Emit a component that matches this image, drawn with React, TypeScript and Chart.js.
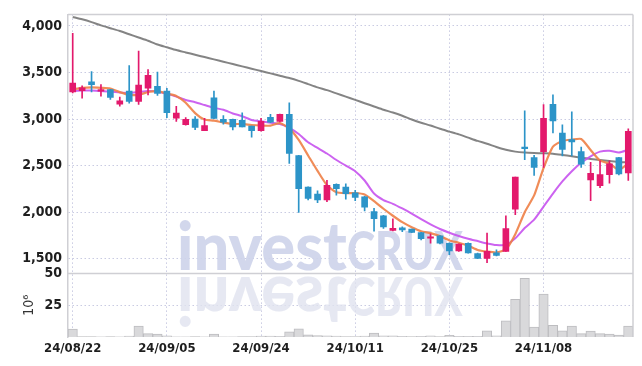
import React, { useEffect, useRef } from 'react';
import { Chart, registerables } from 'chart.js';

Chart.register(...registerables);

const dates = [
  '24/08/22', '24/08/23', '24/08/26', '24/08/27', '24/08/28', '24/08/29', '24/08/30',
  '24/09/02', '24/09/03', '24/09/04', '24/09/05', '24/09/06', '24/09/09', '24/09/10', '24/09/11', '24/09/12', '24/09/13',
  '24/09/19', '24/09/20', '24/09/23', '24/09/24', '24/09/25', '24/09/26', '24/09/27', '24/09/30',
  '24/10/02', '24/10/04', '24/10/07', '24/10/08', '24/10/10', '24/10/11', '24/10/14', '24/10/15', '24/10/16', '24/10/17', '24/10/18',
  '24/10/21', '24/10/22', '24/10/23', '24/10/24', '24/10/25', '24/10/28', '24/10/29', '24/10/30', '24/10/31',
  '24/11/01', '24/11/04', '24/11/05', '24/11/06', '24/11/07', '24/11/08', '24/11/11', '24/11/12', '24/11/13', '24/11/14', '24/11/15',
  '24/11/18', '24/11/19', '24/11/20', '24/11/21',
];

const opens = [
  3290, 3305, 3400, 3300, 3315, 3160, 3300, 3190, 3330, 3350,
  3300, 3010, 2940, 3000, 2875, 3228, 2997, 2997, 2987, 2923,
  2875, 3018, 2973, 3050, 2607, 2270, 2195, 2131, 2300, 2270,
  2207, 2165, 2007, 1962, 1805, 1832, 1818, 1780, 1720, 1745,
  1667, 1583, 1667, 1555, 1505, 1565, 1580, 2032, 2700, 2586,
  2650, 3158, 2850, 2780, 2650, 2347, 2284, 2404, 2586, 2421,
];
const highs = [
  3920, 3355, 3510, 3370, 3320, 3236, 3575, 3730, 3530, 3505,
  3330, 3137, 3015, 3025, 3007, 3300, 3036, 3000, 3067, 2925,
  3007, 3050, 3052, 3173, 2610, 2272, 2228, 2341, 2305, 2305,
  2236, 2170, 2042, 1965, 1930, 1842, 1820, 1785, 1768, 1750,
  1670, 1660, 1670, 1560, 1776, 1595, 1962, 2378, 3088, 2610,
  3155, 3260, 2937, 3078, 2700, 2534, 2552, 2550, 2590, 2895,
];
const lows = [
  3280, 3225, 3290, 3245, 3210, 3137, 3170, 3158, 3260, 3253,
  3015, 2973, 2935, 2885, 2874, 3005, 2944, 2884, 2915, 2805,
  2870, 2960, 2970, 2523, 1997, 2131, 2102, 2113, 2183, 2141,
  2123, 2015, 1797, 1825, 1800, 1790, 1780, 1702, 1667, 1660,
  1545, 1580, 1560, 1500, 1457, 1530, 1578, 1973, 2563, 2394,
  2481, 2850, 2604, 2604, 2480, 2123, 2263, 2312, 2400, 2341,
];
const closes = [
  3385, 3335, 3370, 3315, 3232, 3195, 3190, 3365, 3470, 3275,
  3067, 3065, 2997, 2910, 2930, 3007, 2967, 2916, 2916, 2875,
  2975, 2965, 3050, 2632, 2253, 2147, 2131, 2288, 2253, 2200,
  2158, 2053, 1930, 1842, 1828, 1811, 1783, 1716, 1735, 1668,
  1583, 1657, 1562, 1505, 1579, 1535, 1825, 2376, 2683, 2481,
  3007, 2979, 2674, 2755, 2516, 2418, 2404, 2520, 2411, 2867,
];

const volumes = [
  6.2, 0.3, 0.3, 0.2, 0.3, 0.2, 0.8, 8.6, 2.6, 2.3,
  0.9, 0.2, 0.2, 0.3, 0.2, 2.3, 0.2, 0.2, 0.3, 0.3,
  0.8, 0.8, 0.5, 4.1, 6.5, 1.8, 1.1, 1.0, 0.8, 0.4,
  0.4, 0.8, 3.1, 0.9, 0.9, 0.5, 0.4, 0.6, 1.0, 0.4,
  1.3, 0.6, 0.5, 0.6, 4.9, 1.0, 12.8, 29.7, 46.1, 7.8,
  33.8, 9.1, 4.9, 8.6, 2.6, 4.6, 2.6, 2.3, 1.5, 8.6,
];

const ma5 = [
  3320, 3335, 3340, 3335, 3327, 3289, 3260, 3259, 3290, 3299,
  3273, 3248, 3175, 3063, 2994, 2982, 2962, 2946, 2947, 2936,
  2930, 2929, 2956, 2899, 2775, 2609, 2443, 2290, 2214, 2204,
  2206, 2190, 2119, 2037, 1962, 1893, 1839, 1796, 1775, 1743,
  1697, 1672, 1641, 1595, 1577, 1568, 1601, 1764, 2000, 2180,
  2474, 2705, 2765, 2779, 2786, 2668, 2553, 2523, 2454, 2524,
];
const ma20 = [
  3300, 3305, 3305, 3300, 3295, 3285, 3280, 3290, 3300, 3295,
  3270, 3240, 3205, 3180, 3150, 3120, 3100, 3060, 3030, 2990,
  2975, 2960, 2945, 2905, 2840, 2750, 2690, 2630, 2560, 2500,
  2440, 2340, 2200, 2130, 2090, 2040, 1985, 1925, 1870, 1820,
  1780, 1745, 1715, 1690, 1665, 1648, 1650, 1720, 1830, 1920,
  2060, 2200, 2330, 2440, 2530, 2600, 2650, 2660, 2640, 2670,
];
const ma120 = [
  4095, 4070, 4040, 4005, 3975, 3945, 3910, 3875, 3840, 3800,
  3770, 3740, 3715, 3690, 3665, 3640, 3615, 3590, 3565, 3540,
  3515, 3490, 3465, 3440, 3410, 3375, 3340, 3310, 3275, 3240,
  3205, 3170, 3135, 3100, 3070, 3035, 2995, 2960, 2930, 2895,
  2865, 2835, 2800, 2765, 2735, 2700, 2670, 2650, 2640, 2635,
  2632, 2628, 2615, 2600, 2585, 2572, 2560, 2550, 2540, 2535,
];

const priceTicks = [1500, 2000, 2500, 3000, 3500, 4000];
const volumeTicks = [25, 50];
const dateLabelEvery = 10;

const UP = '#e3196c';
const DOWN = '#2c94c8';
const GRID = '#c9cbe2';
const FRAME = '#cfcfd4';
const FONT = "'DejaVu Sans Condensed', 'DejaVu Sans', sans-serif";

export default function App() {
  const ref = useRef<HTMLCanvasElement>(null);

  useEffect(() => {
    if (!ref.current) return;
    const colors = closes.map((c, i) => (c >= opens[i] ? UP : DOWN));

    const watermark = {
      id: 'watermark',
      beforeDatasetsDraw(chart: any) {
        const ctx = chart.ctx;
        const base = chart.scales.y.bottom - 3;
        ctx.save();
        ctx.textBaseline = 'alphabetic';
        ctx.textAlign = 'left';
        const draw = (color: string) => {
          ctx.fillStyle = color;
          ctx.font = "900 66px Lato, 'Open Sans', sans-serif";
          ctx.fillText('invest', 177, base, 170);
          ctx.font = "900 54px Lato, 'Open Sans', sans-serif";
          ctx.fillText('CRUX', 347, base, 116);
        };
        ctx.save();
        ctx.translate(0, 2 * base + 7);
        ctx.scale(1, -1);
        draw('rgba(224,226,239,0.8)');
        ctx.restore();
        draw('rgba(206,212,234,0.92)');
        ctx.restore();
      },
    };

    const frame = {
      id: 'frame',
      afterDraw(chart: any) {
        const ctx = chart.ctx;
        const a = chart.chartArea;
        const sep = chart.scales.y.bottom;
        ctx.save();
        ctx.strokeStyle = FRAME;
        ctx.lineWidth = 1.5;
        ctx.beginPath();
        ctx.moveTo(a.left, a.top);
        ctx.lineTo(a.right, a.top);
        ctx.moveTo(a.right, a.top);
        ctx.lineTo(a.right, a.bottom);
        ctx.moveTo(a.left, sep);
        ctx.lineTo(a.right, sep);
        ctx.stroke();
        ctx.restore();
      },
    };

    const tickFont = { family: FONT, size: 14, weight: 'bold', style: 'normal condensed' };

    const chart = new Chart(ref.current, {
      type: 'bar',
      data: {
        labels: dates,
        datasets: [
          {
            type: 'bar',
            label: 'body',
            data: opens.map((o, i) => [o, closes[i]]),
            backgroundColor: colors,
            borderWidth: 0,
            barThickness: 6,
            minBarLength: 1,
            grouped: false,
            yAxisID: 'y',
            order: 1,
          } as any,
          {
            type: 'bar',
            label: 'wick',
            data: lows.map((l, i) => [l, highs[i]]),
            backgroundColor: colors,
            borderWidth: 0,
            barThickness: 1,
            grouped: false,
            yAxisID: 'y',
            order: 2,
          } as any,
          {
            type: 'line',
            label: 'MA5',
            data: ma5,
            borderColor: 'rgba(238,128,70,0.9)',
            borderWidth: 2.2,
            pointRadius: 0,
            tension: 0.2,
            yAxisID: 'y',
            order: 3,
          },
          {
            type: 'line',
            label: 'MA20',
            data: ma20,
            borderColor: 'rgba(198,82,238,0.9)',
            borderWidth: 2,
            pointRadius: 0,
            tension: 0.2,
            yAxisID: 'y',
            order: 4,
          },
          {
            type: 'line',
            label: 'MA120',
            data: ma120,
            borderColor: 'rgba(125,125,125,0.95)',
            borderWidth: 2,
            pointRadius: 0,
            tension: 0.2,
            yAxisID: 'y',
            order: 5,
          },
          {
            type: 'bar',
            label: 'volume',
            data: volumes,
            backgroundColor: '#d9d9db',
            borderColor: '#bdbdc0',
            borderWidth: 1,
            barPercentage: 1,
            categoryPercentage: 1,
            grouped: false,
            yAxisID: 'yv',
            order: 6,
          } as any,
        ],
      },
      options: {
        animation: false,
        responsive: true,
        maintainAspectRatio: false,
        events: [],
        layout: { padding: { top: 9, right: 9, left: 0, bottom: 0 } },
        plugins: { legend: { display: false }, tooltip: { enabled: false } },
        scales: {
          x: {
            type: 'category',
            offset: true,
            grid: {
              offset: false,
              drawTicks: false,
              color: (c: any) => (c.index % dateLabelEvery === 0 ? GRID : 'rgba(0,0,0,0)'),
            },
            border: { display: false, dash: [1.5, 2.5] },
            ticks: {
              autoSkip: false,
              maxRotation: 0,
              padding: 4,
              color: '#1e1e1e',
              font: { ...tickFont, size: 13 },
              callback: (v: any, i: number) => (i % dateLabelEvery === 0 ? dates[i] : ''),
            },
            afterFit: (s: any) => {
              s.height = 29;
            },
          },
          yv: {
            type: 'linear',
            position: 'left',
            stack: 'panels',
            stackWeight: 1,
            min: 0,
            max: 50,
            afterBuildTicks: (s: any) => {
              s.ticks = volumeTicks.map((v) => ({ value: v }));
            },
            afterFit: (s: any) => {
              s.width = 68;
            },
            grid: { color: GRID, drawTicks: false },
            border: { display: true, color: FRAME, width: 1.5, dash: [1.5, 2.5] },
            ticks: { padding: 6, color: '#1e1e1e', font: tickFont },
            title: {
              display: true,
              text: '10⁶',
              color: '#333',
              font: { family: FONT, size: 14, style: 'normal condensed' },
              padding: { top: 21, bottom: 0 },
            },
          },
          y: {
            type: 'linear',
            position: 'left',
            stack: 'panels',
            stackWeight: 4.08,
            min: 1342,
            max: 4123,
            afterBuildTicks: (s: any) => {
              s.ticks = priceTicks.map((v) => ({ value: v }));
            },
            afterFit: (s: any) => {
              s.width = 68;
            },
            grid: { color: GRID, drawTicks: false },
            border: { display: true, color: FRAME, width: 1.5, dash: [1.5, 2.5] },
            ticks: { padding: 6, color: '#1e1e1e', font: tickFont },
          },
        },
      } as any,
      plugins: [watermark, frame],
    });
    return () => chart.destroy();
  }, []);

  return (
    <div style={{ position: 'fixed', left: 0, top: 0, width: 642, height: 366, background: '#fff' }}>
      <canvas ref={ref} />
    </div>
  );
}
